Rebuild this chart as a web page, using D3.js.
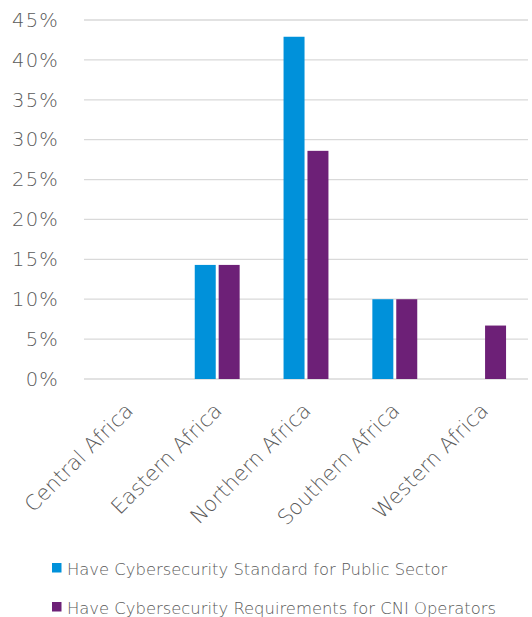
<!DOCTYPE html>
<html>
<head>
<meta charset="utf-8">
<script src="https://cdn.jsdelivr.net/npm/d3@7"></script>
<style>
  body { margin: 0; background: #fff; }
  svg text { font-family: "DejaVu Sans", sans-serif; font-weight: 200; fill: #595959; }
</style>
</head>
<body>
<div id="chart"></div>
<script>
const regions = ['Central Africa', 'Eastern Africa', 'Northern Africa', 'Southern Africa', 'Western Africa'];
const publicSector = [0, 14.3, 42.9, 10.0, 0];
const cniOperators = [0, 14.3, 28.6, 10.0, 6.7];
const seriesNames = ['Have Cybersecurity Standard for Public Sector', 'Have Cybersecurity Requirements for CNI Operators'];
const seriesColors = ['#0091da', '#6d2077'];
const yTicks = [0, 5, 10, 15, 20, 25, 30, 35, 40, 45];

const width = 532, height = 617;
const margin = {top: 20, right: 4, bottom: 238, left: 84};
const innerWidth = width - margin.left - margin.right;
const innerHeight = height - margin.top - margin.bottom;

const svg = d3.select('#chart').append('svg')
    .attr('width', width)
    .attr('height', height);

const g = svg.append('g')
    .attr('transform', `translate(${margin.left},${margin.top})`);

const x = d3.scaleBand().domain(regions).range([0, innerWidth]);
const y = d3.scaleLinear().domain([0, 45]).range([innerHeight, 0]);

const barWidth = 19.7, barGap = 5.5;
const xSub = d3.scaleBand().domain([0, 1])
    .range([x.bandwidth() / 2 - barWidth - barGap / 2, x.bandwidth() / 2 + barWidth + barGap / 2])
    .paddingInner(barGap / (barWidth * 2 + barGap));

// gridlines
g.append('g')
    .selectAll('line')
    .data(yTicks)
    .join('line')
    .attr('x1', 0)
    .attr('x2', innerWidth)
    .attr('y1', d => y(d))
    .attr('y2', d => y(d))
    .attr('stroke', '#d9d9d9')
    .attr('stroke-width', 1.3);

// y axis labels
const yAxis = d3.axisLeft(y).tickValues(yTicks).tickFormat(d => d + '%').tickSize(0).tickPadding(25);
g.append('g')
    .call(yAxis)
    .call(a => a.select('.domain').remove())
    .selectAll('text')
    .style('font-size', '19.5px')
    .style('font-family', '"DejaVu Sans", sans-serif')
    .style('letter-spacing', '1.2px');

// bars
const data = regions.map((r, i) => ({region: r, values: [publicSector[i], cniOperators[i]]}));
g.append('g')
    .selectAll('g')
    .data(data)
    .join('g')
    .attr('transform', d => `translate(${x(d.region)},0)`)
    .selectAll('rect')
    .data(d => d.values.map((v, k) => ({k, v})).filter(e => e.v > 0))
    .join('rect')
    .attr('x', d => xSub(d.k))
    .attr('width', xSub.bandwidth())
    .attr('y', d => y(d.v))
    .attr('height', d => y(0) - y(d.v))
    .attr('fill', d => seriesColors[d.k]);

// x axis labels
const xAxis = d3.axisBottom(x).tickSize(0).tickPadding(0);
g.append('g')
    .attr('transform', `translate(0,${innerHeight})`)
    .call(xAxis)
    .call(a => a.select('.domain').remove())
    .selectAll('text')
    .style('font-size', '21px')
    .style('font-family', '"DejaVu Sans", sans-serif')
    .attr('text-anchor', 'end')
    .attr('dy', 0)
    .attr('transform', 'translate(6,33) rotate(-45)');

// legend
const legend = svg.append('g')
    .attr('transform', 'translate(52,0)');
const items = legend.selectAll('g')
    .data(seriesNames)
    .join('g')
    .attr('transform', (d, i) => `translate(0,${563 + i * 39})`);
items.append('rect')
    .attr('width', 9.5)
    .attr('height', 9.5)
    .attr('fill', (d, i) => seriesColors[i]);
items.append('text')
    .attr('x', 15)
    .attr('y', 11.5)
    .style('font-size', '16.4px')
    .text(d => d);
</script>
</body>
</html>
